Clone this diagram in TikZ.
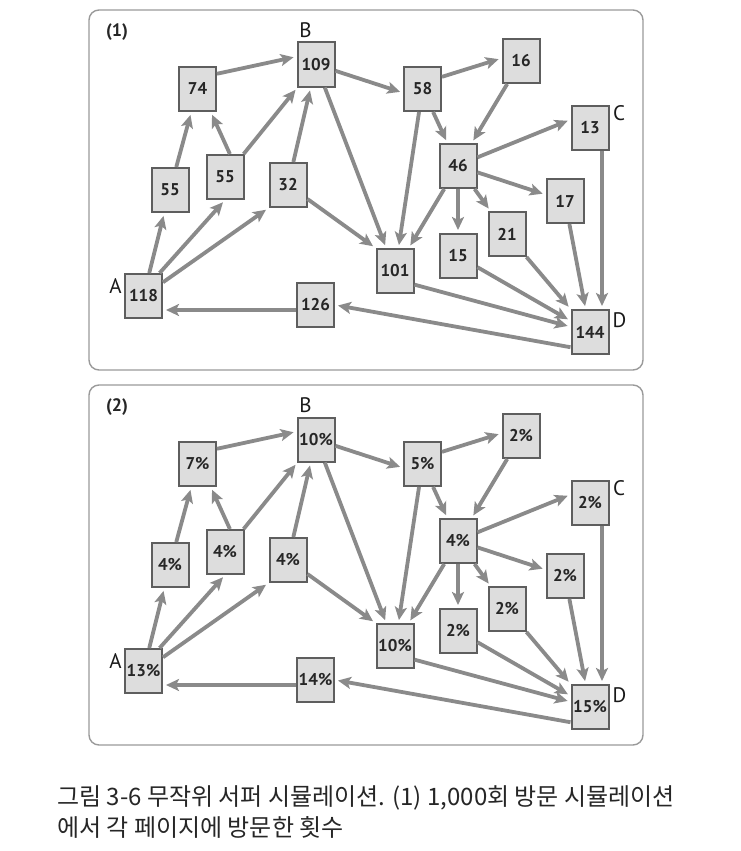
\documentclass[tikz,border=0pt]{standalone}
\usepackage{fontspec}
\usetikzlibrary{arrows.meta}
\newfontfamily\pagefont{PT Sans}
\newfontfamily\krfont{Noto Sans CJK KR}
\definecolor{linkgray}{HTML}{8A8A8A}
\definecolor{boxgray}{HTML}{DDDDDD}
\definecolor{edgegray}{HTML}{5E5E5E}
\definecolor{framegray}{HTML}{9A9A9A}
\begin{document}
\begin{tikzpicture}[x=1pt, y=-1pt,
  page/.style={draw=edgegray, line width=2pt, fill=boxgray, minimum width=37pt, minimum height=44pt,
    inner sep=0pt, font=\pagefont\bfseries\fontsize{17}{19}\selectfont, text=black!85},
  link/.style={draw=linkgray, line width=3.8pt, shorten >=3pt,
    -{Stealth[length=13pt, width=12pt, inset=3pt]}},
  tag/.style={font=\pagefont\fontsize{21}{23}\selectfont, text=black!90},
  panel/.style={draw=framegray, line width=1.4pt, rounded corners=10pt}]
  \useasboundingbox (0,0) rectangle (740,851);
  % one panel per run: visit counts, then shares
  \foreach \tag/\dy/\vA/\vB/\vC/\vD/\vE/\vF/\vG/\vH/\vI/\vJ/\vK/\vL/\vM/\vN/\vO/\vP in
    {1/0/118/109/13/144/74/55/55/32/101/126/58/16/46/17/21/15,
     2/375/13\%/10\%/2\%/15\%/7\%/4\%/4\%/4\%/10\%/14\%/5\%/2\%/4\%/2\%/2\%/2\%}{
  \begin{scope}[shift={(0,\dy)}]
    \draw[panel] (89,10) rectangle (643,370);
    \node[font=\pagefont\bfseries\fontsize{18}{20}\selectfont, text=black!85] (num) at (117,32) {(\tag)};
    \node[page] (pA) at (143.5,296) {\vA};
    \node[page] (pE) at (197.5,89) {\vE};
    \node[page] (pF) at (170,190) {\vF};
    \node[page] (pG) at (225,177) {\vG};
    \node[page] (pH) at (288,185) {\vH};
    \node[page] (pB) at (316,64.5) {\vB};
    \node[page] (pI) at (395,271) {\vI};
    \node[page] (pJ) at (315.5,305) {\vJ};
    \node[page] (pK) at (422.5,89) {\vK};
    \node[page] (pL) at (521,61) {\vL};
    \node[page] (pM) at (458,166) {\vM};
    \node[page] (pC) at (590,127.5) {\vC};
    \node[page] (pN) at (565,201) {\vN};
    \node[page] (pO) at (507,234) {\vO};
    \node[page] (pP) at (458,256) {\vP};
    \node[page] (pD) at (590,332) {\vD};
    \node[tag] (lA) at (115.5,286) {A};
    \node[tag] (lB) at (305.5,30) {B};
    \node[tag] (lC) at (619,113.5) {C};
    \node[tag] (lD) at (619.5,320) {D};
    % links between the pages
    \draw[link] (pA) -- (pF);
    \draw[link] (pA.55) -- (pG.south);
    \draw[link] (pA) -- (pH.south west);
    \draw[link] (pF) -- (pE);
    \draw[link] (pG.78) -- (pE.300);
    \draw[link] (pG) -- (pB);
    \draw[link] (pE.38) -- (pB.158);
    \draw[link] (pH) -- (pB);
    \draw[link] (pH) -- (pI.north west);
    \draw[link] (pB) -- (pI);
    \draw[link] (pB) -- (pK.191);
    \draw[link] (pK.32) -- (pL.172);
    \draw[link] (pK) -- (pI);
    \draw[link] (pK) -- (pM);
    \draw[link] (pL) -- (pM);
    \draw[link] (pM.24) -- (pC.158);
    \draw[link] (pM) -- (pN);
    \draw[link] (pM) -- (pO);
    \draw[link] (pM) -- (pP);
    \draw[link] (pM) -- (pI);
    \draw[link] ([xshift=12pt]pC.south) -- ([xshift=12pt]pD.north);
    \draw[link] (pN) -- (pD);
    \draw[link] (pO) -- (pD);
    \draw[link] (pP) -- (pD);
    \draw[link] (pI.325) -- (pD);
    \draw[link] (pD.218) -- (pJ.east);
    \draw[link] ([yshift=-5pt]pJ.west) -- ([yshift=-5pt]pJ.west -| pA.east);
  \end{scope}}
  \node[anchor=base west, font=\krfont\fontsize{24}{28}\selectfont, text=black!85, inner sep=0pt]
    (cap1) at (57,805) {그림 3-6 무작위 서퍼 시뮬레이션. (1) 1,000회 방문 시뮬레이션};
  \node[anchor=base west, font=\krfont\fontsize{24}{28}\selectfont, text=black!85, inner sep=0pt]
    (cap2) at (57,836) {에서 각 페이지에 방문한 횟수};
\end{tikzpicture}
\end{document}
